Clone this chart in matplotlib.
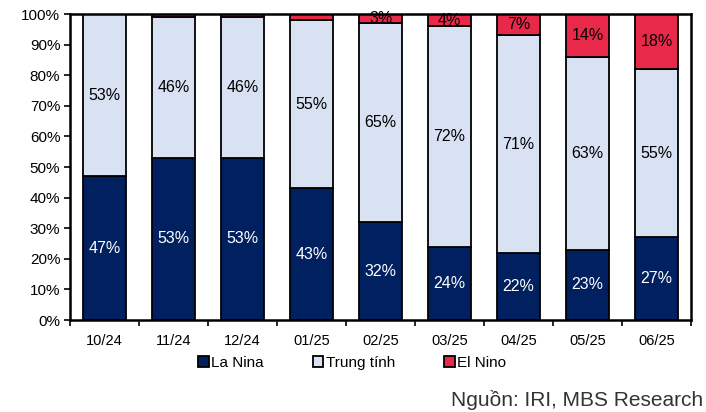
import numpy as np
import matplotlib.pyplot as plt
from matplotlib.ticker import FixedLocator, PercentFormatter

plt.rcParams['font.family'] = ['Liberation Sans', 'DejaVu Sans']

months = ['10/24', '11/24', '12/24', '01/25', '02/25', '03/25', '04/25', '05/25', '06/25']
la_nina = [47, 53, 53, 43, 32, 24, 22, 23, 27]
trung_tinh = [53, 46, 46, 55, 65, 72, 71, 63, 55]
el_nino = [0, 1, 1, 2, 3, 4, 7, 14, 18]

c_la = '#002060'
c_tt = '#D9E2F3'
c_el = '#E8294A'

fig = plt.figure(figsize=(7.06, 4.12), dpi=100)
ax = fig.add_axes([0.0992, 0.2233, 0.8798, 0.7427])

x = np.arange(len(months))
w = 0.62
la = np.array(la_nina)
tt = np.array(trung_tinh)
el = np.array(el_nino)

ax.bar(x, la, w, color=c_la, edgecolor='black', linewidth=1.3, label='La Nina')
ax.bar(x, tt, w, bottom=la, color=c_tt, edgecolor='black', linewidth=1.3, label='Trung tính')
ax.bar(x, el, w, bottom=la + tt, color=c_el, edgecolor='black', linewidth=1.3, label='El Nino')

fs = 11.5
for i in range(len(months)):
    ax.text(x[i], la[i] / 2, f'{la[i]}%', ha='center', va='center', color='white', fontsize=fs)
    ax.text(x[i], la[i] + tt[i] / 2, f'{tt[i]}%', ha='center', va='center', color='black', fontsize=fs)
    if el[i] >= 3:
        ax.text(x[i], la[i] + tt[i] + el[i] / 2, f'{el[i]}%', ha='center', va='center',
                color='black', fontsize=fs)

ax.set_xlim(-0.5, len(months) - 0.5)
ax.set_ylim(0, 100)
ax.set_yticks(np.arange(0, 101, 10))
ax.yaxis.set_major_formatter(PercentFormatter(decimals=0))
ax.set_xticks(x)
ax.set_xticklabels(months)
ax.xaxis.set_minor_locator(FixedLocator(np.arange(-0.5, len(months), 1)))
ax.tick_params(axis='x', which='major', length=0, pad=10, labelsize=10.5)
ax.tick_params(axis='x', which='minor', length=4, width=1.2, direction='out')
ax.tick_params(axis='y', length=4, width=1.2, direction='out', labelsize=11, pad=3)

for s in ax.spines.values():
    s.set_linewidth(1.8)
    s.set_color('black')

handles, labels = ax.get_legend_handles_labels()
fig.legend(handles, labels, loc='center', bbox_to_anchor=(352 / 706, 0.119), ncol=3,
           frameon=False, handlelength=0.7, handleheight=0.7, handletextpad=0.15,
           columnspacing=3.2, fontsize=11)

fig.text(0.996, 1 - 406 / 412, 'Nguồn: IRI, MBS Research', ha='right', va='baseline',
         fontsize=15, color='#333333')

fig.savefig('out.png', dpi=100)
